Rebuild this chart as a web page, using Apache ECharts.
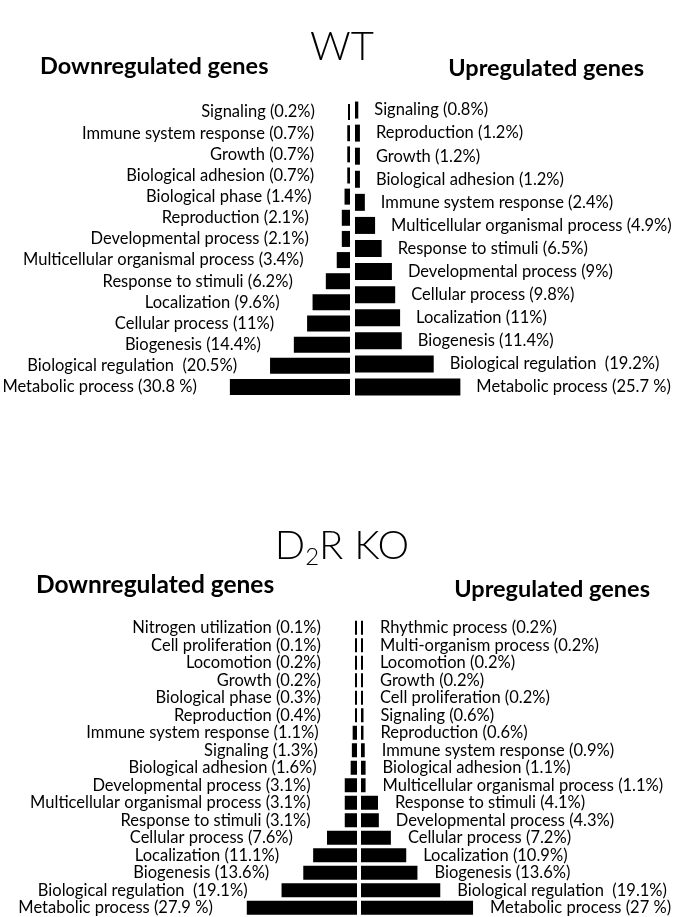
<!DOCTYPE html>
<html><head><meta charset="utf-8">
<script src="https://cdn.jsdelivr.net/npm/echarts@6/dist/echarts.min.js"></script>
<style>html,body{margin:0;padding:0;background:#fff}#c{width:684px;height:917px}</style>
</head><body><div id="c"></div>
<script>
// ---- data (percent of genes per GO category) ----
const wtDownNames = ['Signaling','Immune system response','Growth','Biological adhesion','Biological phase','Reproduction','Developmental process','Multicellular organismal process','Response to stimuli','Localization','Cellular process','Biogenesis','Biological regulation ','Metabolic process'];
const wtDownPct = [0.2,0.7,0.7,0.7,1.4,2.1,2.1,3.4,6.2,9.6,11,14.4,20.5,30.8];
const wtUpNames = ['Signaling','Reproduction','Growth','Biological adhesion','Immune system response','Multicellular organismal process','Response to stimuli','Developmental process','Cellular process','Localization','Biogenesis','Biological regulation ','Metabolic process'];
const wtUpPct = [0.8,1.2,1.2,1.2,2.4,4.9,6.5,9,9.8,11,11.4,19.2,25.7];
const koDownNames = ['Nitrogen utilization','Cell proliferation','Locomotion','Growth','Biological phase','Reproduction','Immune system response','Signaling','Biological adhesion','Developmental process','Multicellular organismal process','Response to stimuli','Cellular process','Localization','Biogenesis','Biological regulation ','Metabolic process'];
const koDownPct = [0.1,0.1,0.2,0.2,0.3,0.4,1.1,1.3,1.6,3.1,3.1,3.1,7.6,11.1,13.6,19.1,27.9];
const koUpNames = ['Rhythmic process','Multi-organism process','Locomotion','Growth','Cell proliferation','Signaling','Reproduction','Immune system response','Biological adhesion','Multicellular organismal process','Response to stimuli','Developmental process','Cellular process','Localization','Biogenesis','Biological regulation ','Metabolic process'];
const koUpPct = [0.2,0.2,0.2,0.2,0.2,0.6,0.6,0.9,1.1,1.1,4.1,4.3,7.2,10.9,13.6,19.1,27];

const FONT = 'Lato, "Open Sans", sans-serif';
const fmt = p => p.name + ' (' + p.value + (p.name === 'Metabolic process' ? ' %' : '%') + ')';

function yAx(g, names) {
  return { type: 'category', gridIndex: g, inverse: true, data: names,
    axisLine: {show:false}, axisTick:{show:false}, axisLabel:{show:false}, splitLine:{show:false} };
}
function xAx(g, inv, max) {
  return { type: 'value', gridIndex: g, inverse: inv, min: 0, max: max, show: false, splitLine:{show:false} };
}
function ser(i, vals, side, bw, dist) {
  return { type: 'bar', xAxisIndex: i, yAxisIndex: i, data: vals, barWidth: bw, barMinHeight: 2,
    itemStyle: { color: '#000' }, silent: true,
    label: { show: true, position: side, distance: dist, formatter: fmt,
      color: '#000', fontFamily: FONT, fontSize: 16.5 } };
}
const hdr = (size) => ({ fontFamily: FONT, fontSize: size, fontWeight: 'bold', color: '#000' });

const chart = echarts.init(document.getElementById('c'), null, { renderer: 'canvas' });
chart.setOption({
  backgroundColor: '#fff',
  animation: false,
  title: [
    { text: 'WT', left: 'center', top: 22, textStyle: { fontFamily: FONT, fontSize: 40, fontWeight: 300, color: '#000' } },
    { text: 'Downregulated genes', left: 35, top: 49, textStyle: hdr(23.5) },
    { text: 'Upregulated genes', right: 35, top: 51, textStyle: hdr(23.5) },
    { text: '{a|D}{s|2}{a|R KO}', left: 'center', top: 518, textStyle: { rich: {
        a: { fontFamily: FONT, fontSize: 40, fontWeight: 300, color: '#000' },
        s: { fontFamily: FONT, fontSize: 24, fontWeight: 300, color: '#000', padding: [22, 0, 0, 0] } } } },
    { text: 'Downregulated genes', left: 31, top: 568, textStyle: hdr(24.5) },
    { text: 'Upregulated genes', right: 29, top: 572, textStyle: hdr(23.5) }
  ],
  grid: [
    { left: 0, right: 334, top: 101.5, height: 296 },
    { left: 355, right: 0, top: 98.5, height: 300 },
    { left: 0, right: 327, top: 619, height: 297.5 },
    { left: 361, right: 0, top: 619, height: 297.5 }
  ],
  xAxis: [ xAx(0, true, 350/3.9), xAx(1, false, 329/4.1), xAx(2, true, 357/3.95), xAx(3, false, 323/4.15) ],
  yAxis: [ yAx(0, wtDownNames), yAx(1, wtUpNames), yAx(2, koDownNames), yAx(3, koUpNames) ],
  series: [
    ser(0, wtDownPct, 'left', 16, 33),
    ser(1, wtUpPct, 'right', 17, 16),
    ser(2, koDownPct, 'left', 14, 34),
    ser(3, koUpPct, 'right', 14, 17)
  ]
});
</script></body></html>
